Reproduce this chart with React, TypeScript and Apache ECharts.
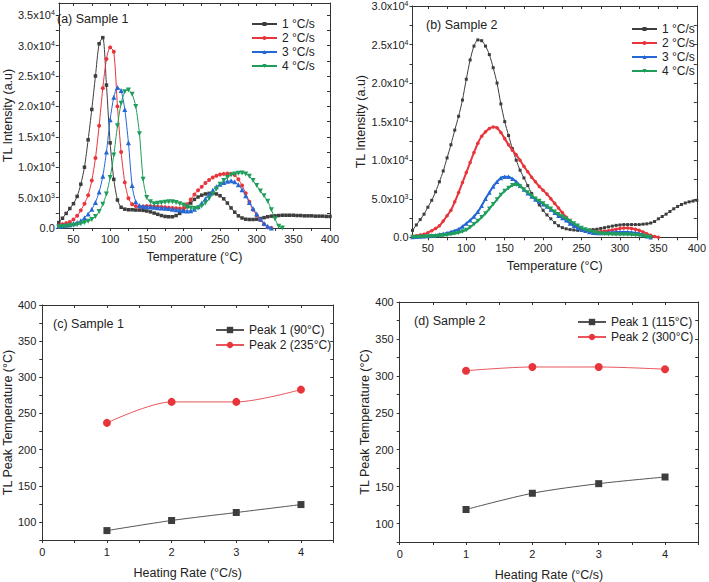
import React, { useEffect, useRef } from "react";
import * as echarts from "echarts";

// Temperature grid of the glow curves (°C)
const TEMPS = [
  30, 35, 40, 45, 50, 55, 60, 65, 70, 75, 80, 85, 90, 95, 100, 105, 110, 115, 120, 125,
  130, 135, 140, 145, 150, 155, 160, 165, 170, 175, 180, 185, 190, 195, 200, 205, 210, 215, 220, 225,
  230, 235, 240, 245, 250, 255, 260, 265, 270, 275, 280, 285, 290, 295, 300, 305, 310, 315, 320, 325,
  330, 335, 340, 345, 350, 355, 360, 365, 370, 375, 380, 385, 390, 395, 400,
];

// Sample 1 glow curves, TL intensity (a.u.)
const S1_RATE1 = [
  900, 1600, 2400, 3200, 4000, 5200, 7200, 10000, 14500, 19500, 25000, 30300, 31300, 23500, 14000, 8000, 4600, 3400, 3100, 3000,
  3000, 2950, 2950, 2900, 2800, 2650, 2450, 2250, 2050, 1900, 1850, 1850, 2050, 2400, 2900, 3500, 4100, 4700, 5100, 5400,
  5600, 5700, 5700, 5600, 5300, 4800, 4100, 3300, 2600, 2000, 1650, 1450, 1400, 1400, 1450, 1550, 1700, 1850, 1950, 2000,
  2050, 2100, 2100, 2100, 2100, 2050, 2050, 2000, 2000, 2000, 1950, 1950, 1950, 1900, 1900,
];
const S1_RATE2 = [
  400, 600, 800, 1000, 1400, 2000, 2900, 4000, 5400, 7800, 11500, 16800, 23000, 27800, 29700, 29000, 20000, 12500, 7500, 4900,
  3900, 3600, 3500, 3550, 3600, 3600, 3550, 3500, 3450, 3400, 3350, 3300, 3250, 3200, 3300, 3900, 4700, 5500, 6200, 6800,
  7400, 7900, 8300, 8600, 8800, 8900, 8950, 8900, 8700, 8000, 7000, 5700, 4300, 3000, 2100, 1300, 600, 100, 0,
];
const S1_RATE3 = [
  300, 350, 450, 550, 700, 900, 1200, 1700, 2300, 3100, 4200, 5900, 8500, 12500, 17800, 21500, 23100, 22600, 19500, 14000,
  7000, 4300, 3700, 3550, 3500, 3450, 3400, 3350, 3300, 3250, 3200, 3100, 3000, 2900, 2850, 2800, 2850, 3100, 3500, 4100,
  4800, 5500, 6200, 6800, 7200, 7500, 7700, 7750, 7600, 7100, 6300, 5300, 4200, 3200, 2300, 1500, 800, 300, 0,
];
const S1_RATE4 = [
  200, 250, 300, 350, 450, 550, 700, 900, 1100, 1400, 1900, 2700, 3900, 5600, 8300, 12000, 16800, 20500, 22400, 22700,
  22000, 20000, 15500, 8000, 5000, 4300, 4000, 4050, 4150, 4250, 4300, 4300, 4200, 4000, 3800, 3500, 3300, 3200, 3300, 3600,
  4100, 4800, 5600, 6400, 7200, 7800, 8300, 8700, 8900, 9000, 9050, 8900, 8500, 7800, 7000, 6100, 5300, 4400, 3000, 1500,
  300, 0,
];

// Sample 2 glow curves, TL intensity (a.u.)
const S2_RATE1 = [
  900, 1600, 2300, 3000, 3900, 4800, 5900, 7200, 8600, 10300, 12000, 13900, 15700, 17800, 20500, 23000, 24800, 25600, 25500, 24800,
  23700, 22000, 20000, 17300, 15000, 13200, 11500, 10000, 8700, 7700, 6700, 5700, 4900, 4200, 3500, 2900, 2400, 1900, 1500, 1250,
  1100, 1000, 950, 900, 900, 900, 950, 1000, 1050, 1150, 1250, 1350, 1450, 1550, 1600, 1650, 1650, 1650, 1650, 1650,
  1700, 1750, 1850, 2050, 2400, 2700, 3000, 3350, 3700, 4000, 4250, 4450, 4600, 4700, 4800,
];
const S2_RATE2 = [
  150, 200, 300, 400, 600, 850, 1150, 1500, 2100, 2800, 3500, 4600, 5800, 7100, 8400, 9700, 11000, 12200, 13100, 13700,
  14100, 14300, 14200, 13600, 12800, 12000, 11300, 10700, 10000, 9200, 8500, 7800, 7200, 6600, 6100, 5600, 5000, 4400, 3800, 3200,
  2600, 2100, 1700, 1300, 1000, 850, 800, 750, 750, 750, 800, 850, 950, 1050, 1150, 1200, 1200, 1150, 1050, 900,
  700, 450, 250, 100, 0,
];
const S2_RATE3 = [
  50, 70, 100, 130, 170, 220, 280, 350, 450, 550, 700, 850, 1050, 1400, 1800, 2200, 2700, 3300, 4100, 5000,
  5800, 6600, 7200, 7700, 7850, 7850, 7600, 7200, 6700, 6200, 5700, 5300, 4900, 4600, 4300, 4000, 3600, 3200, 2800, 2500,
  2200, 1800, 1500, 1200, 1000, 850, 700, 600, 550, 550, 550, 600, 650, 700, 700, 700, 700, 650, 600, 500,
  350, 150, 0,
];
const S2_RATE4 = [
  30, 40, 50, 70, 90, 120, 150, 190, 240, 300, 380, 480, 600, 750, 950, 1300, 1700, 2100, 2600, 3100,
  3700, 4300, 4900, 5500, 6000, 6400, 6750, 6800, 6600, 6200, 5800, 5400, 5000, 4700, 4400, 4000, 3700, 3300, 3000, 2700,
  2400, 2100, 1800, 1500, 1200, 1000, 850, 700, 600, 500, 450, 400, 380, 350, 350, 350, 350, 330, 300, 250,
  180, 80, 0,
];

const RATE_NAMES = ["1 °C/s", "2 °C/s", "3 °C/s", "4 °C/s"];

// Peak temperature versus heating rate
const HEATING_RATES = [1, 2, 3, 4];
const S1_PEAK1 = [88, 102, 113, 124];
const S1_PEAK2 = [237, 266, 266, 283];
const S2_PEAK1 = [119, 141, 154, 163];
const S2_PEAK2 = [307, 312, 312, 309];

// Axis tick / label positions
const TEMP_TICKS = [50, 75, 100, 125, 150, 175, 200, 225, 250, 275, 300, 325, 350, 375, 400];
const TEMP_LABELS = [50, 100, 150, 200, 250, 300, 350, 400];
const S1_INT_TICKS = [0, 2500, 5000, 7500, 10000, 12500, 15000, 17500, 20000, 22500, 25000, 27500, 30000, 32500, 35000];
const S1_INT_LABELS = [0, 5000, 10000, 15000, 20000, 25000, 30000, 35000];
const S2_INT_TICKS = [0, 2500, 5000, 7500, 10000, 12500, 15000, 17500, 20000, 22500, 25000, 27500, 30000];
const S2_INT_LABELS = [0, 5000, 10000, 15000, 20000, 25000, 30000];
const RATE_TICKS = [0, 0.5, 1, 1.5, 2, 2.5, 3, 3.5, 4, 4.5];
const RATE_LABELS = [0, 1, 2, 3, 4];
const PEAK_TICKS = [75, 100, 125, 150, 175, 200, 225, 250, 275, 300, 325, 350, 375, 400];
const PEAK_LABELS = [100, 150, 200, 250, 300, 350, 400];

const FONT = "Liberation Sans, Arial, sans-serif";
const AXIS_COLOR = "#333";
const TEXT_COLOR = "#222";
const COLORS = ["#3d3d3d", "#e8353b", "#2467d5", "#1f9e5b"];
const SYMBOLS = ["rect", "circle", "triangle", "triangle"];
const ROTATIONS = [0, 0, 0, 180];

const GRIDS = [
  { left: 52, top: 3, width: 278, height: 225 },
  { left: 412.5, top: 6, width: 287, height: 231.3 },
  { left: 39.3, top: 305, width: 294, height: 235 },
  { left: 399.7, top: 302, width: 298.5, height: 240.3 },
];

const supRich = {
  sup: { fontSize: 7, fontFamily: FONT, color: TEXT_COLOR, verticalAlign: "top", padding: [0, 0, 5, 0] },
};

const sciLabel = (v: number) => {
  if (v === 0) return "0.0";
  if (v >= 10000) return `${(v / 10000).toFixed(1)}x10{sup|4}`;
  return `${(v / 1000).toFixed(1)}x10{sup|3}`;
};

function mainAxes(
  grid: number,
  x: { min: number; max: number; ticks: number[]; labels: number[]; name: string; gap: number; margin: number },
  y: { min: number; max: number; ticks: number[]; labels: number[]; name: string; gap: number; margin: number; fmt?: (v: number) => string },
) {
  const line = { show: true, onZero: false, lineStyle: { color: AXIS_COLOR, width: 1 } };
  const xAxes = [
    {
      type: "value",
      gridIndex: grid,
      position: "bottom",
      min: x.min,
      max: x.max,
      axisLine: line,
      splitLine: { show: false },
      axisTick: { show: true, inside: false, length: 3, customValues: x.ticks, lineStyle: { color: AXIS_COLOR } },
      axisLabel: { customValues: x.labels, margin: x.margin, fontFamily: FONT, fontSize: 11, color: TEXT_COLOR },
      name: x.name,
      nameLocation: "middle",
      nameGap: x.gap,
      nameTextStyle: { fontFamily: FONT, fontSize: 12.5, color: TEXT_COLOR },
    },
    {
      type: "value",
      gridIndex: grid,
      position: "top",
      min: x.min,
      max: x.max,
      axisLine: line,
      splitLine: { show: false },
      axisTick: { show: true, inside: true, length: 3, customValues: x.ticks, lineStyle: { color: AXIS_COLOR } },
      axisLabel: { show: false },
    },
  ];
  const yAxes = [
    {
      type: "value",
      gridIndex: grid,
      position: "left",
      min: y.min,
      max: y.max,
      axisLine: line,
      splitLine: { show: false },
      axisTick: { show: true, inside: false, length: 3, customValues: y.ticks, lineStyle: { color: AXIS_COLOR } },
      axisLabel: {
        customValues: y.labels,
        margin: y.margin,
        fontFamily: FONT,
        fontSize: 11,
        color: TEXT_COLOR,
        formatter: y.fmt ? y.fmt : (v: number) => String(v),
        rich: supRich,
      },
      name: y.name,
      nameLocation: "middle",
      nameGap: y.gap,
      nameTextStyle: { fontFamily: FONT, fontSize: 12.5, color: TEXT_COLOR },
    },
    {
      type: "value",
      gridIndex: grid,
      position: "right",
      min: y.min,
      max: y.max,
      axisLine: line,
      splitLine: { show: false },
      axisTick: { show: true, inside: true, length: 3, customValues: y.ticks, lineStyle: { color: AXIS_COLOR } },
      axisLabel: { show: false },
    },
  ];
  return { xAxes, yAxes };
}

function glowSeries(grid: number, curves: number[][], size: number, width: number) {
  return curves.map((vals, i) => ({
    type: "line",
    name: RATE_NAMES[i],
    xAxisIndex: grid * 2,
    yAxisIndex: grid * 2,
    data: vals.map((v, k) => [TEMPS[k], v]),
    symbol: SYMBOLS[i],
    symbolRotate: ROTATIONS[i],
    symbolSize: i === 0 ? size - 0.5 : i === 1 ? size : size + 1,
    showSymbol: true,
    showAllSymbol: true,
    smooth: 0.25,
    lineStyle: { color: COLORS[i], width: i === 0 ? 1 : width },
    itemStyle: { color: COLORS[i] },
    z: 2 + i,
  }));
}

function peakSeries(grid: number, names: string[], p1: number[], p2: number[]) {
  return [
    {
      type: "line",
      name: names[0],
      xAxisIndex: grid * 2,
      yAxisIndex: grid * 2,
      data: HEATING_RATES.map((r, k) => [r, p1[k]]),
      symbol: "rect",
      symbolSize: 7,
      smooth: 0.3,
      lineStyle: { color: "#555", width: 1 },
      itemStyle: { color: COLORS[0] },
    },
    {
      type: "line",
      name: names[1],
      xAxisIndex: grid * 2,
      yAxisIndex: grid * 2,
      data: HEATING_RATES.map((r, k) => [r, p2[k]]),
      symbol: "circle",
      symbolSize: 8,
      smooth: 0.3,
      lineStyle: { color: "#e8555a", width: 1 },
      itemStyle: { color: COLORS[1] },
    },
  ];
}

export default function App() {
  const ref = useRef<HTMLDivElement>(null);

  useEffect(() => {
    if (!ref.current) return;
    const chart = echarts.init(ref.current, undefined, { renderer: "svg" });

    const tempName = "Temperature (°C)";
    const a = mainAxes(
      0,
      { min: 30, max: 400, ticks: TEMP_TICKS, labels: TEMP_LABELS, name: tempName, gap: 22, margin: 5 },
      { min: 0, max: 37000, ticks: S1_INT_TICKS, labels: S1_INT_LABELS, name: "TL Intensity (a.u)", gap: 38, margin: 4, fmt: sciLabel },
    );
    const b = mainAxes(
      1,
      { min: 30, max: 400, ticks: TEMP_TICKS, labels: TEMP_LABELS, name: tempName, gap: 22, margin: 5 },
      { min: 0, max: 30000, ticks: S2_INT_TICKS, labels: S2_INT_LABELS, name: "TL Intensity (a.u)", gap: 40, margin: 4, fmt: sciLabel },
    );
    const rateName = "Heating Rate (°C/s)";
    const c = mainAxes(
      2,
      { min: 0, max: 4.5, ticks: RATE_TICKS, labels: RATE_LABELS, name: rateName, gap: 26, margin: 6 },
      { min: 75, max: 400, ticks: PEAK_TICKS, labels: PEAK_LABELS, name: "TL Peak Temperature (°C)", gap: 27, margin: 6 },
    );
    const d = mainAxes(
      3,
      { min: 0, max: 4.5, ticks: RATE_TICKS, labels: RATE_LABELS, name: rateName, gap: 26, margin: 6 },
      { min: 75, max: 400, ticks: PEAK_TICKS, labels: PEAK_LABELS, name: "TL Peak Temperature (°C)", gap: 27, margin: 6 },
    );

    const s1Names = ["Peak 1 (90°C)", "Peak 2 (235°C)"];
    const s2Names = ["Peak 1 (115°C)", "Peak 2 (300°C)"];

    const legendBase = {
      orient: "vertical",
      itemWidth: 25,
      itemHeight: 5,
      itemGap: 2,
      textStyle: { fontFamily: FONT, fontSize: 12, color: TEXT_COLOR },
      selectedMode: false,
    };

    chart.setOption({
      animation: false,
      backgroundColor: "#fff",
      grid: GRIDS.map((g) => ({ ...g, containLabel: false })),
      xAxis: [...a.xAxes, ...b.xAxes, ...c.xAxes, ...d.xAxes],
      yAxis: [...a.yAxes, ...b.yAxes, ...c.yAxes, ...d.yAxes],
      title: [
        { text: "(a) Sample 1", left: 57, top: 12 },
        { text: "(b) Sample 2", left: 426, top: 18 },
        { text: "(c) Sample 1", left: 53, top: 317 },
        { text: "(d) Sample 2", left: 414, top: 314 },
      ].map((t) => ({
        ...t,
        padding: 0,
        textStyle: { fontFamily: FONT, fontSize: 12.5, fontWeight: "normal", color: TEXT_COLOR },
      })),
      legend: [
        { ...legendBase, left: 246, top: 13, data: RATE_NAMES },
        { ...legendBase, left: 626, top: 18, data: RATE_NAMES },
        { ...legendBase, left: 210, top: 319, itemWidth: 28, itemHeight: 8, itemGap: 3, data: s1Names },
        { ...legendBase, left: 572, top: 311, itemWidth: 28, itemHeight: 8, itemGap: 3, data: s2Names },
      ],
      series: [
        ...glowSeries(0, [S1_RATE1, S1_RATE2, S1_RATE3, S1_RATE4], 4, 1),
        ...glowSeries(1, [S2_RATE1, S2_RATE2, S2_RATE3, S2_RATE4], 3.5, 2),
        ...peakSeries(2, s1Names, S1_PEAK1, S1_PEAK2),
        ...peakSeries(3, s2Names, S2_PEAK1, S2_PEAK2),
      ],
    });

    return () => chart.dispose();
  }, []);

  return (
    <div
      ref={ref}
      style={{ position: "fixed", left: 0, top: 0, width: 709, height: 582, background: "#fff" }}
    />
  );
}
